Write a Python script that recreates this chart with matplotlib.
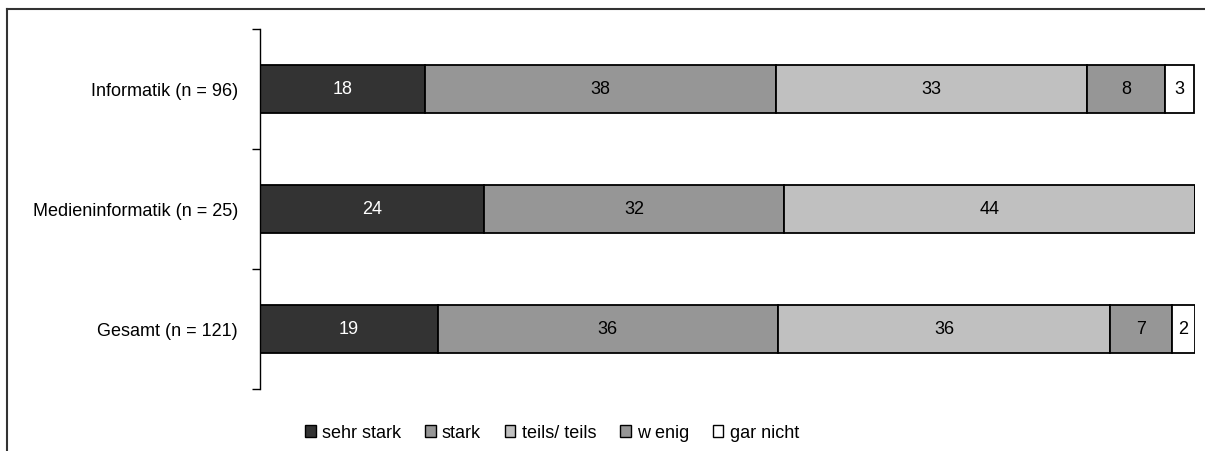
import matplotlib
matplotlib.use("Agg")
import matplotlib.pyplot as plt
from matplotlib import font_manager
from matplotlib.patches import Patch
from matplotlib.lines import Line2D

categories = ["Informatik (n = 96)", "Medieninformatik (n = 25)", "Gesamt (n = 121)"]
series_names = ["sehr stark", "stark", "teils/ teils", "w enig", "gar nicht"]
sehr_stark = [17.7, 24.0, 19.0]
stark = [37.5, 32.0, 36.4]
teils = [33.3, 44.0, 35.5]
wenig = [8.3, 0.0, 6.6]
gar_nicht = [3.1, 0.0, 2.5]
series = [sehr_stark, stark, teils, wenig, gar_nicht]
colors = ["#333333", "#969696", "#C0C0C0", "#969696", "#FFFFFF"]
text_colors = ["white", "black", "black", "black", "black"]

avail = {f.name for f in font_manager.fontManager.ttflist}
fam = [f for f in ["Liberation Sans Narrow", "Liberation Sans", "DejaVu Sans"] if f in avail]
plt.rcParams["font.family"] = fam
FS = 13

fig = plt.figure(figsize=(12.05, 4.52), dpi=100)
W, H = 1205, 452
ax = fig.add_axes([260 / W, 1 - 390 / H, 935 / W, 360 / H])

ypos = list(range(len(categories)))
left = [0.0] * len(categories)
for vals, col, tcol in zip(series, colors, text_colors):
    bars = ax.barh(ypos, vals, left=left, height=0.4, color=col,
                   edgecolor="black", linewidth=1.3)
    for b, v, l in zip(bars, vals, left):
        if v > 0:
            ax.text(l + v / 2, b.get_y() + b.get_height() / 2, f"{round(v):d}",
                    ha="center", va="center", color=tcol, fontsize=FS)
    left = [a + b for a, b in zip(left, vals)]

ax.set_xlim(0, 100)
ax.set_ylim(2.5, -0.5)
ax.set_yticks(ypos)
ax.set_yticklabels(categories, fontsize=FS)
ax.tick_params(axis="y", which="major", length=0, pad=16)
ax.set_yticks([-0.5, 0.5, 1.5, 2.5], minor=True)
ax.tick_params(axis="y", which="minor", length=6, width=1, direction="out")
ax.set_xticks([])
for s in ["top", "right", "bottom"]:
    ax.spines[s].set_visible(False)
ax.spines["left"].set_linewidth(1)

handles = [Patch(facecolor=c, edgecolor="black", linewidth=1) for c in colors]
fig.legend(handles, series_names, loc="center", bbox_to_anchor=(552 / W, 1 - 434 / H),
           ncol=5, frameon=False, fontsize=FS, handlelength=0.6, handleheight=0.6,
           handletextpad=0.35, columnspacing=1.3, borderpad=0)

# outer frame (top and left edges)
fig.add_artist(Line2D([7 / W, 1.0], [1 - 9.5 / H, 1 - 9.5 / H], transform=fig.transFigure,
                      color="#333333", linewidth=1.5))
fig.add_artist(Line2D([7.5 / W, 7.5 / W], [0, 1 - 9.5 / H], transform=fig.transFigure,
                      color="#333333", linewidth=1.5))

fig.savefig("out.png", dpi=100)
